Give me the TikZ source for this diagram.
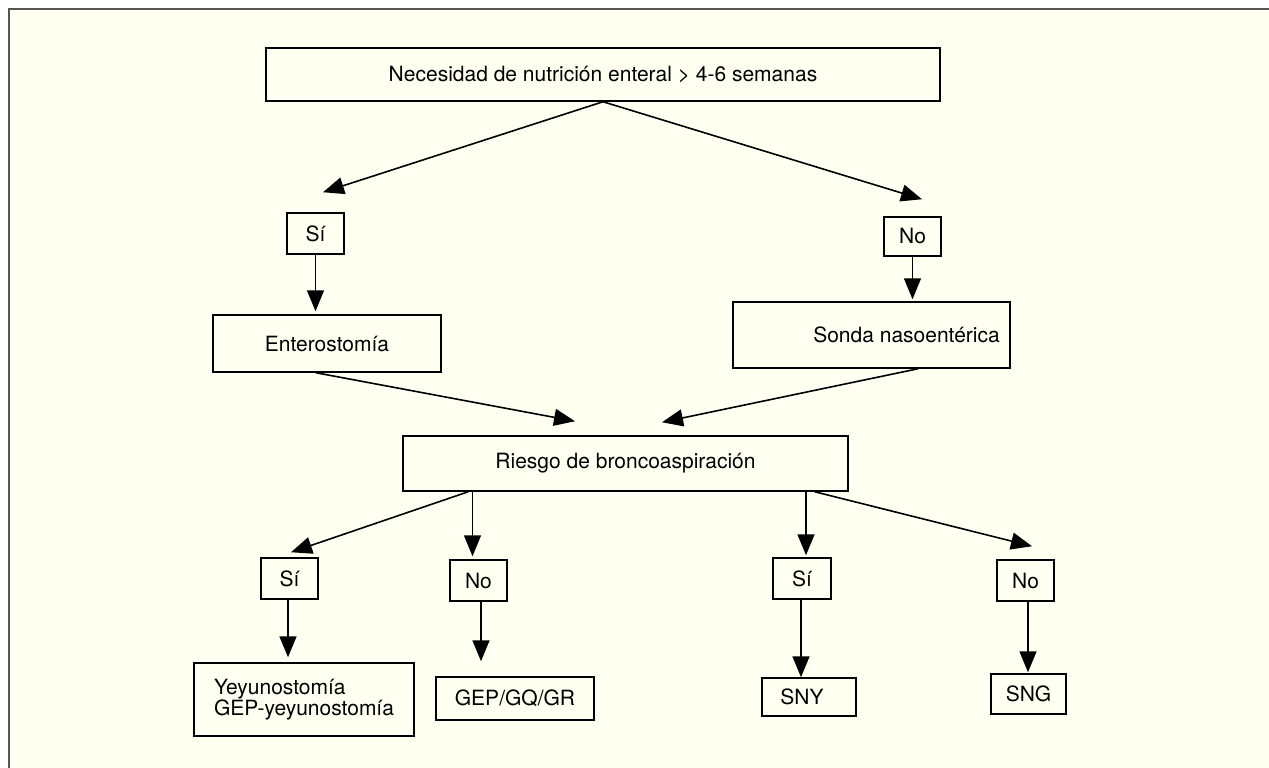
\documentclass[tikz,border=0pt]{standalone}
\usepackage{fontspec}
\setmainfont{TeX Gyre Heros}
\usetikzlibrary{arrows.meta}

\definecolor{fondo}{RGB}{255,255,242}
\definecolor{marco}{RGB}{85,85,85}

\begin{document}
\begin{tikzpicture}[x=1pt,y=-1pt,
    caja/.style={draw,line width=1.5pt,inner sep=0pt,font=\fontsize{21}{21}\selectfont},
    flecha/.style={line width=1.6pt,-{Triangle[length=21pt,width=17pt]}}]
  \useasboundingbox (0,0) rectangle (1269,768);
  \fill[white] (0,0) rectangle (1269,768);
  \fill[fondo] (9,9) rectangle (1269,768);
  \draw[marco,line width=2pt] (9,768) -- (9,9) -- (1269,9);

  % primera decision
  \node[caja,minimum width=674pt,minimum height=53pt] (N) at (603,74.5) {Necesidad de nutrición enteral > 4-6 semanas};
  \node[caja,minimum width=57pt,minimum height=41pt] (S1) at (315.5,233.5) {Sí};
  \node[caja,minimum width=57pt,minimum height=39pt] (N1) at (912.5,236.5) {No};
  \node[caja,minimum width=228pt,minimum height=57pt] (E) at (327,343.5) {Enterostomía};
  \node[caja,minimum width=277pt,minimum height=66pt] (SN) at (871.5,335) {\hspace*{70pt}Sonda nasoentérica};

  % segunda decision
  \node[caja,minimum width=445pt,minimum height=55pt] (R) at (625.5,463.5) {Riesgo de broncoaspiración};
  \node[caja,minimum width=57pt,minimum height=41pt] (S2) at (289.5,578.5) {Sí};
  \node[caja,minimum width=57pt,minimum height=41pt] (N2) at (478.5,580.5) {No};
  \node[caja,minimum width=58pt,minimum height=41pt] (S3) at (802,578.5) {Sí};
  \node[caja,minimum width=57pt,minimum height=41pt] (N3) at (1025.5,580.5) {No};

  % resultados
  \node[caja,minimum width=220pt,minimum height=73pt,align=left] (Y) at (304,699.5) {Yeyunostomía\\GEP-yeyunostomía};
  \node[caja,minimum width=158pt,minimum height=43pt] (G) at (515,698.5) {GEP/GQ/GR};
  \node[caja,minimum width=94pt,minimum height=38pt] (SNY) at (809,697) {SNY\hspace*{14pt}};
  \node[caja,minimum width=75pt,minimum height=40pt] (SNG) at (1028.5,694) {SNG};

  \draw[flecha] (N.south) -- ([xshift=7.5pt,yshift=20pt]S1.north);
  \draw[flecha] (N.south) -- ([xshift=9.5pt,yshift=17pt]N1.north);
  \draw[flecha] (S1.south) -- ([yshift=3pt]S1.south |- E.north);
  \draw[flecha] (N1.south) -- ([yshift=2pt]N1.south |- SN.north);

  \draw[flecha] ([xshift=-11pt]E.south) -- ([xshift=-50.5pt,yshift=14pt]R.north);
  \draw[flecha] ([xshift=46.5pt]SN.south) -- ([xshift=36.5pt,yshift=13pt]R.north);

  \draw[flecha] ([xshift=66pt]R.south west) -- ([xshift=1.5pt,yshift=5pt]S2.north);
  \draw[flecha] ([xshift=-6pt]N2.north |- R.south) -- ([xshift=-6pt,yshift=3pt]N2.north);
  \draw[flecha] ([xshift=4pt]S3.north |- R.south) -- ([xshift=4pt,yshift=2pt]S3.north);
  \draw[flecha] ([xshift=-34pt]R.south east) -- ([xshift=6.5pt,yshift=13pt]N3.north);

  \draw[flecha] ([xshift=-1.5pt]S2.south) -- ([xshift=-1.5pt,yshift=5pt]S2.south |- Y.north);
  \draw[flecha] ([xshift=2.5pt]N2.south) -- ([xshift=2.5pt,yshift=15pt]N2.south |- G.north);
  \draw[flecha] ([xshift=-1pt]S3.south) -- ([xshift=-1pt]S3.south |- SNY.north);
  \draw[flecha] ([xshift=2.5pt]N3.south) -- ([xshift=2.5pt,yshift=1pt]N3.south |- SNG.north);
\end{tikzpicture}
\end{document}
